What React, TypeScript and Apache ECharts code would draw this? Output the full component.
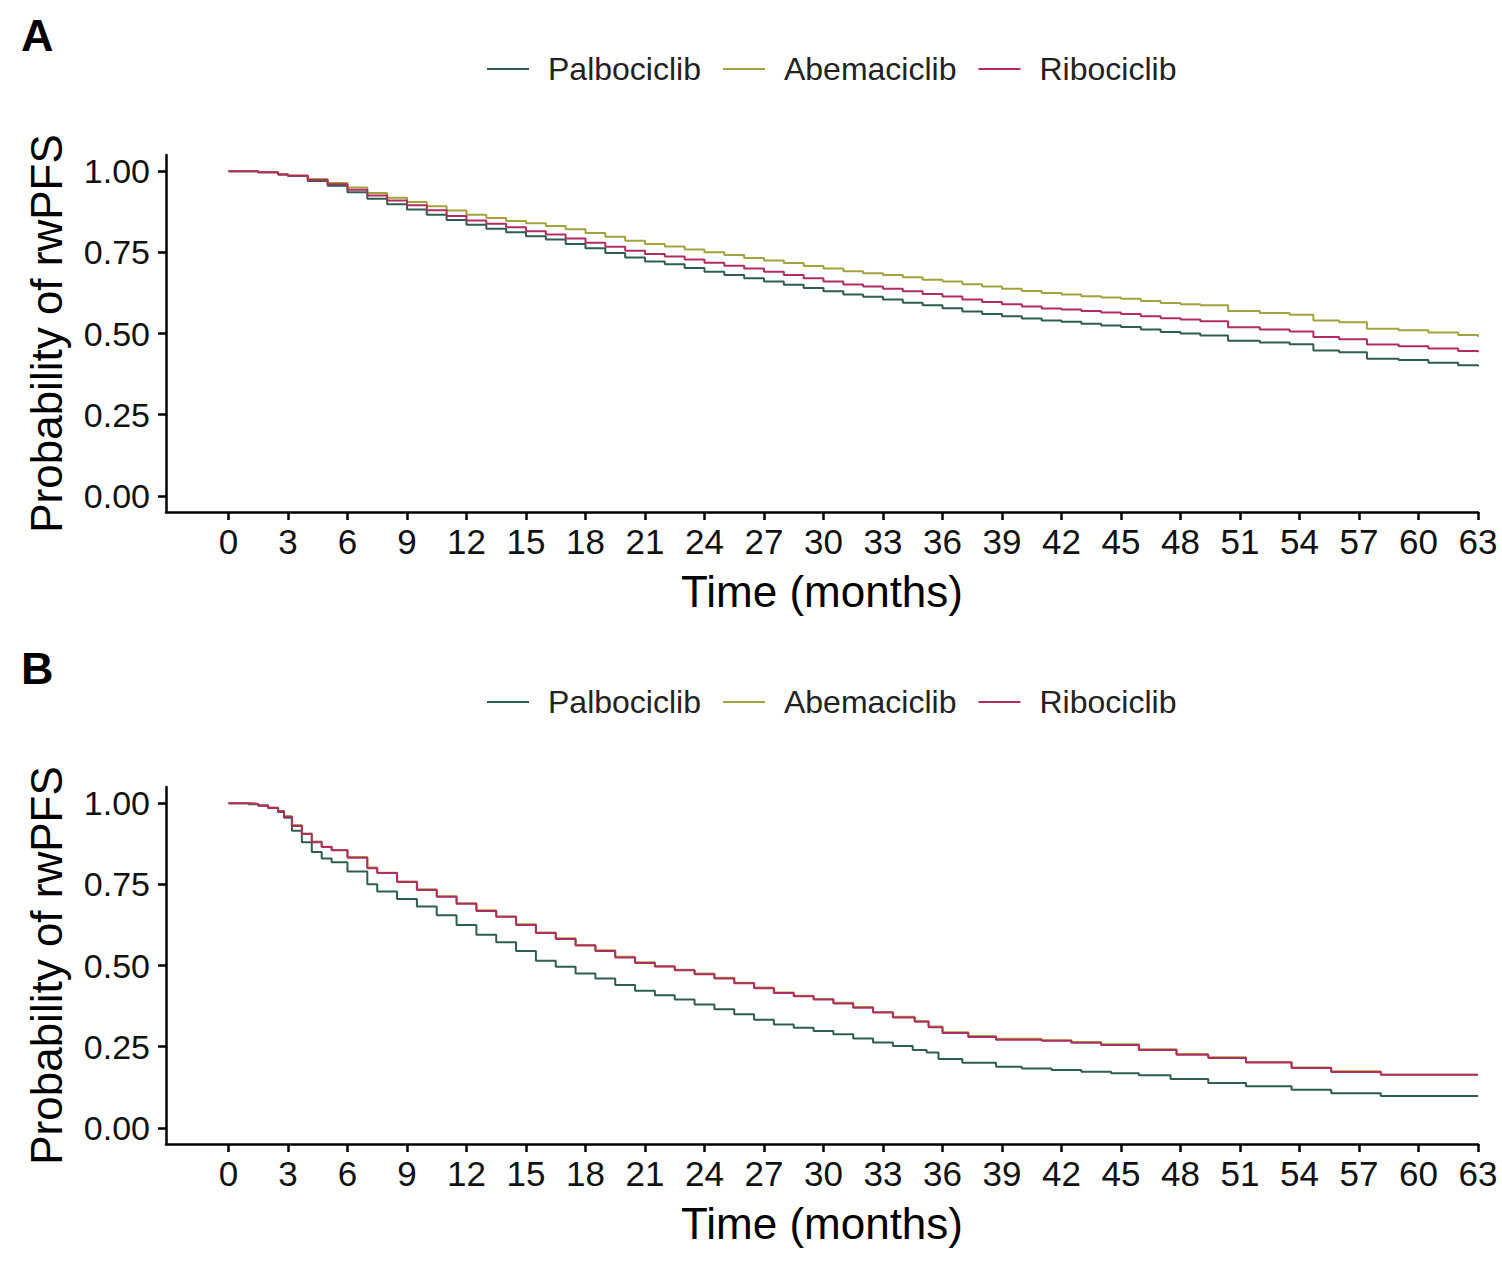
import React, { useEffect, useRef } from "react";
import * as echarts from "echarts";

// Kaplan–Meier style survival estimates (time in months, probability of rwPFS)
const drugNames = ["Palbociclib", "Abemaciclib", "Ribociclib"];
const drugColors = ["#2E5E4E", "#A3A33E", "#B02C62"];

const xTicks = [0, 3, 6, 9, 12, 15, 18, 21, 24, 27, 30, 33, 36, 39, 42, 45, 48, 51, 54, 57, 60, 63];
const yTicks = [0, 0.25, 0.5, 0.75, 1];

// Panel A
const timeA = [0, 1.5, 2.5, 3, 4, 5, 6, 7, 8, 9, 10, 11, 12, 13, 14, 15, 16, 17, 18, 19, 20, 21, 22, 23, 24, 25, 26, 27, 28, 29, 30, 31, 32, 33, 34, 35, 36, 37, 38, 39, 40, 41, 42, 43, 44, 45, 46, 47, 48, 49, 50.4, 52, 53.5, 54.7, 56, 57.4, 59, 60.5, 62, 63];
const palbA = [1.0, 0.997, 0.99, 0.985, 0.97, 0.955, 0.935, 0.915, 0.898, 0.882, 0.866, 0.85, 0.835, 0.823, 0.812, 0.8, 0.79, 0.776, 0.763, 0.748, 0.734, 0.722, 0.713, 0.702, 0.69, 0.68, 0.67, 0.66, 0.65, 0.64, 0.63, 0.62, 0.613, 0.605, 0.595, 0.587, 0.578, 0.568, 0.56, 0.553, 0.546, 0.54, 0.536, 0.53, 0.525, 0.52, 0.512, 0.505, 0.5, 0.494, 0.478, 0.472, 0.467, 0.448, 0.442, 0.422, 0.418, 0.41, 0.402, 0.398];
const abemA = [1.0, 0.997, 0.991, 0.987, 0.976, 0.964, 0.95, 0.933, 0.918, 0.905, 0.892, 0.879, 0.866, 0.856, 0.847, 0.84, 0.831, 0.821, 0.81, 0.798, 0.786, 0.776, 0.768, 0.759, 0.75, 0.742, 0.733, 0.725, 0.717, 0.708, 0.7, 0.692, 0.686, 0.68, 0.673, 0.666, 0.66, 0.652, 0.645, 0.638, 0.631, 0.625, 0.62, 0.615, 0.611, 0.607, 0.6, 0.594, 0.59, 0.587, 0.569, 0.563, 0.558, 0.54, 0.535, 0.515, 0.51, 0.503, 0.495, 0.49];
const riboA = [1.0, 0.997, 0.99, 0.986, 0.973, 0.96, 0.943, 0.925, 0.91, 0.895, 0.88, 0.862, 0.848, 0.838, 0.827, 0.815, 0.805, 0.793, 0.78, 0.767, 0.755, 0.745, 0.737, 0.728, 0.718, 0.709, 0.7, 0.69, 0.68, 0.67, 0.66, 0.651, 0.645, 0.638, 0.63, 0.622, 0.614, 0.605, 0.597, 0.59, 0.583, 0.577, 0.574, 0.569, 0.565, 0.56, 0.553, 0.547, 0.543, 0.538, 0.519, 0.512, 0.506, 0.489, 0.482, 0.466, 0.461, 0.454, 0.446, 0.442];

// Panel B
const timePalbB = [0, 1, 1.5, 2, 2.5, 2.8, 3.2, 3.7, 4.2, 4.7, 5.2, 6, 7, 7.5, 8.5, 9.5, 10.5, 11.5, 12.5, 13.5, 14.5, 15.5, 16.5, 17.5, 18.5, 19.5, 20.5, 21.5, 22.5, 23.5, 24.5, 25.5, 26.5, 27.5, 28.5, 29.5, 30.5, 31.5, 32.5, 33.5, 34.5, 35.2, 35.8, 37, 38.7, 40, 41.5, 43, 44.5, 45.9, 47.5, 49.4, 51.3, 53.6, 55.6, 58.1, 63];
const palbB = [1.0, 0.997, 0.992, 0.985, 0.973, 0.955, 0.915, 0.88, 0.85, 0.83, 0.818, 0.79, 0.75, 0.728, 0.705, 0.682, 0.655, 0.625, 0.595, 0.572, 0.545, 0.515, 0.496, 0.475, 0.46, 0.44, 0.422, 0.408, 0.395, 0.38, 0.365, 0.35, 0.333, 0.318, 0.308, 0.298, 0.288, 0.275, 0.263, 0.252, 0.24, 0.232, 0.212, 0.2, 0.188, 0.183, 0.178, 0.173, 0.168, 0.162, 0.15, 0.138, 0.128, 0.117, 0.106, 0.098, 0.098];
const timeOtherB = [0, 1, 1.5, 2, 2.5, 2.8, 3.2, 3.7, 4.2, 4.7, 5.2, 6, 7, 7.5, 8.5, 9.5, 10.5, 11.5, 12.5, 13.5, 14.5, 15.5, 16.5, 17.5, 18.5, 19.5, 20.5, 21.5, 22.5, 23.5, 24.5, 25.5, 26.5, 27.5, 28.5, 29.5, 30.5, 31.5, 32.5, 33.5, 34.6, 35.3, 36, 37.3, 38.7, 41, 42.5, 44, 45.9, 47.8, 49.4, 51.3, 53.6, 55.6, 58.1, 63];
const abemB = [1.0, 0.998, 0.994, 0.987, 0.976, 0.96, 0.933, 0.907, 0.882, 0.866, 0.856, 0.834, 0.802, 0.786, 0.759, 0.735, 0.713, 0.692, 0.67, 0.651, 0.627, 0.602, 0.584, 0.563, 0.547, 0.527, 0.51, 0.498, 0.487, 0.475, 0.462, 0.447, 0.432, 0.417, 0.407, 0.397, 0.385, 0.372, 0.357, 0.342, 0.329, 0.312, 0.294, 0.283, 0.274, 0.27, 0.264, 0.257, 0.242, 0.227, 0.217, 0.203, 0.186, 0.174, 0.163, 0.163];
const riboB = [1.0, 0.998, 0.993, 0.985, 0.975, 0.958, 0.93, 0.905, 0.88, 0.865, 0.855, 0.832, 0.8, 0.785, 0.757, 0.733, 0.712, 0.69, 0.668, 0.65, 0.625, 0.6, 0.582, 0.562, 0.545, 0.525, 0.508, 0.497, 0.485, 0.473, 0.46, 0.445, 0.43, 0.415, 0.405, 0.395, 0.383, 0.37, 0.355, 0.34, 0.327, 0.31, 0.292, 0.28, 0.271, 0.268, 0.262, 0.255, 0.24, 0.225, 0.215, 0.201, 0.184, 0.172, 0.163, 0.163];

const FONT = "'Liberation Sans', Arial, Helvetica, sans-serif";

const zip = (t: number[], s: number[]) => t.map((v, i) => [v, s[i]]);

function makeXAxis(gridIndex: number) {
  return {
    type: "value",
    gridIndex,
    min: -3.15,
    max: 63,
    name: "Time (months)",
    nameLocation: "middle",
    nameGap: 57,
    nameTextStyle: { fontFamily: FONT, fontSize: 44, color: "#000" },
    axisLine: { show: true, onZero: false, lineStyle: { color: "#000", width: 2.5 } },
    axisTick: { show: true, length: 8, lineStyle: { color: "#000", width: 2.5 }, customValues: xTicks },
    axisLabel: { fontFamily: FONT, fontSize: 35, color: "#111", margin: 12, customValues: xTicks },
    splitLine: { show: false },
  };
}

function makeYAxis(gridIndex: number) {
  return {
    type: "value",
    gridIndex,
    min: -0.05,
    max: 1.05,
    name: "Probability of rwPFS",
    nameLocation: "middle",
    nameGap: 98,
    nameTextStyle: { fontFamily: FONT, fontSize: 44, color: "#000" },
    axisLine: { show: true, onZero: false, lineStyle: { color: "#000", width: 2.5 } },
    axisTick: { show: true, length: 8, lineStyle: { color: "#000", width: 2.5 }, customValues: yTicks },
    axisLabel: {
      fontFamily: FONT,
      fontSize: 34,
      color: "#111",
      margin: 16,
      customValues: yTicks,
      formatter: (v: number) => v.toFixed(2),
    },
    splitLine: { show: false },
  };
}

function makeSeries(name: string, color: string, idx: number, data: number[][]) {
  return {
    type: "line",
    name,
    xAxisIndex: idx,
    yAxisIndex: idx,
    data,
    step: "end",
    symbol: "none",
    color,
    itemStyle: { color },
    lineStyle: { color, width: 2 },
  };
}

function makeLegend(top: number) {
  return {
    left: 482,
    top,
    icon: "rect",
    itemWidth: 42,
    itemHeight: 2,
    itemGap: 22,
    data: drugNames,
    textStyle: { fontFamily: FONT, fontSize: 32, color: "#222", padding: [0, 0, 0, 14] },
  };
}

export default function App() {
  const ref = useRef<HTMLDivElement>(null);

  useEffect(() => {
    if (!ref.current) return;
    const chart = echarts.init(ref.current, undefined, { renderer: "svg" });
    chart.setOption({
      animation: false,
      backgroundColor: "#fff",
      grid: [
        { left: 166, right: 24, top: 155, height: 357 },
        { left: 166, right: 24, top: 787, height: 357 },
      ],
      xAxis: [makeXAxis(0), makeXAxis(1)],
      yAxis: [makeYAxis(0), makeYAxis(1)],
      legend: [makeLegend(48), makeLegend(681)],
      series: [
        makeSeries(drugNames[0], drugColors[0], 0, zip(timeA, palbA)),
        makeSeries(drugNames[1], drugColors[1], 0, zip(timeA, abemA)),
        makeSeries(drugNames[2], drugColors[2], 0, zip(timeA, riboA)),
        makeSeries(drugNames[0], drugColors[0], 1, zip(timePalbB, palbB)),
        makeSeries(drugNames[1], drugColors[1], 1, zip(timeOtherB, abemB)),
        makeSeries(drugNames[2], drugColors[2], 1, zip(timeOtherB, riboB)),
      ],
      graphic: [
        { type: "text", left: 21, top: 13, style: { text: "A", fontFamily: FONT, fontSize: 45, fontWeight: "bold", fill: "#000" } },
        { type: "text", left: 21, top: 646, style: { text: "B", fontFamily: FONT, fontSize: 45, fontWeight: "bold", fill: "#000" } },
      ],
    });
    return () => chart.dispose();
  }, []);

  return (
    <div
      ref={ref}
      style={{ position: "fixed", left: 0, top: 0, width: 1502, height: 1272, background: "#fff" }}
    />
  );
}
